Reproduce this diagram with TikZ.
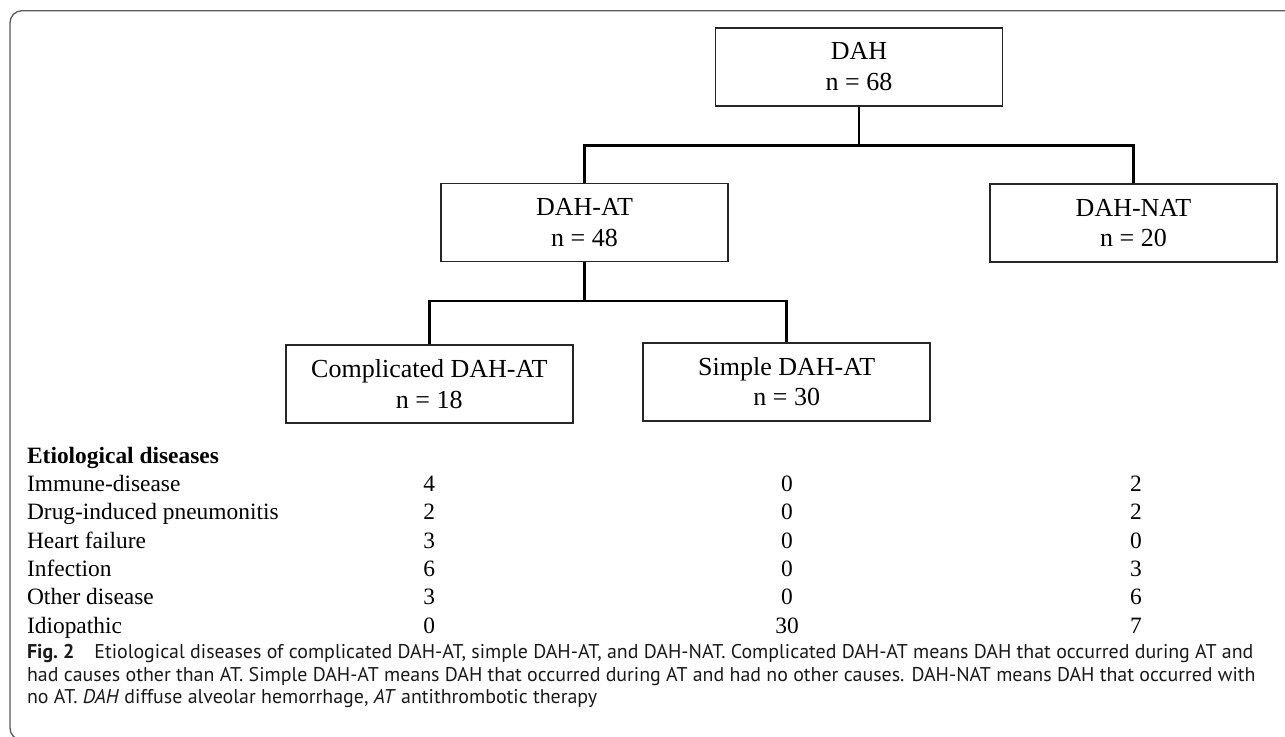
\documentclass[tikz,border=0pt]{standalone}
\usepackage{fontspec}
\setmainfont{Liberation Serif}
\newfontfamily\capfont{PT Sans}
\begin{document}
\begin{tikzpicture}[x=0.5pt, y=-0.5pt,
    groupbox/.style={draw=black!85, line width=0.8pt, minimum width=143.5pt, minimum height=39pt,
        align=center, inner sep=0pt, font=\fontsize{13}{15.3}\selectfont},
    link/.style={line width=1.3pt},
    rowlabel/.style={anchor=base west, inner sep=0pt, font=\fontsize{11.7}{14}\selectfont},
    rowcount/.style={anchor=base, inner sep=0pt, font=\fontsize{11.7}{14}\selectfont},
    capline/.style={anchor=base west, inner sep=0pt, font=\capfont\fontsize{9.95}{12}\selectfont, text=black!90}]

    \useasboundingbox (0,0) rectangle (1285,736);
    % frame of the figure
    \draw[black!65, line width=0.65pt, rounded corners=6pt] (10,10.7) rectangle (1300,740);

    \node[groupbox] (DAH) at (859,66.7) {DAH\\n = 68};
    \node[groupbox] (DAHAT) at (584.5,222.5) {DAH-AT\\n = 48};
    \node[groupbox] (DAHNAT) at (1133.5,223) {DAH-NAT\\n = 20};
    \node[groupbox] (complicated) at (429.3,383.8) {Complicated DAH-AT\\n = 18};
    \node[groupbox] (simple) at (786.7,381.7) {Simple DAH-AT\\n = 30};

    \coordinate (split1) at (859,145.7);
    \coordinate (split2) at (584.5,301);

    % Draw the tree lines between the boxes
    \draw[link] (DAH.south) -- (split1);
    \draw[link] (DAHAT.north) |- (split1) -| (DAHNAT.north);
    \draw[link] (DAHAT.south) -- (split2);
    \draw[link] (complicated.north) |- (split2) -| (simple.north);

    % table of etiological diseases
    \node[rowlabel, font=\bfseries\fontsize{11.7}{14}\selectfont] (etiology) at (26.7,463.3) {Etiological diseases};
    \foreach \name/\a/\b/\c [count=\i] in {Immune-disease/4/0/2, Drug-induced pneumonitis/2/0/2,
        Heart failure/3/0/0, Infection/6/0/3, Other disease/3/0/6, Idiopathic/0/30/7}{
        \node[rowlabel] (row\i) at (26.7,463.3+28.33*\i) {\name};
        \node[rowcount] (compl\i) at (429.3,463.3+28.33*\i) {\a};
        \node[rowcount] (simple\i) at (787,463.3+28.33*\i) {\b};
        \node[rowcount] (nat\i) at (1136,463.3+28.33*\i) {\c};
    }

    % caption
    \node[capline] (cap1) at (26.7,658.3) {\textbf{Fig.~2}\quad Etiological diseases of complicated DAH-AT, simple DAH-AT, and DAH-NAT. Complicated DAH-AT means DAH that occurred during AT and};
    \node[capline] (cap2) at (26.7,681.7) {had causes other than AT. Simple DAH-AT means DAH that occurred during AT and had no other causes. DAH-NAT means DAH that occurred with};
    \node[capline] (cap3) at (26.7,703.3) {no AT. \textit{DAH} diffuse alveolar hemorrhage, \textit{AT} antithrombotic therapy};
\end{tikzpicture}
\end{document}
